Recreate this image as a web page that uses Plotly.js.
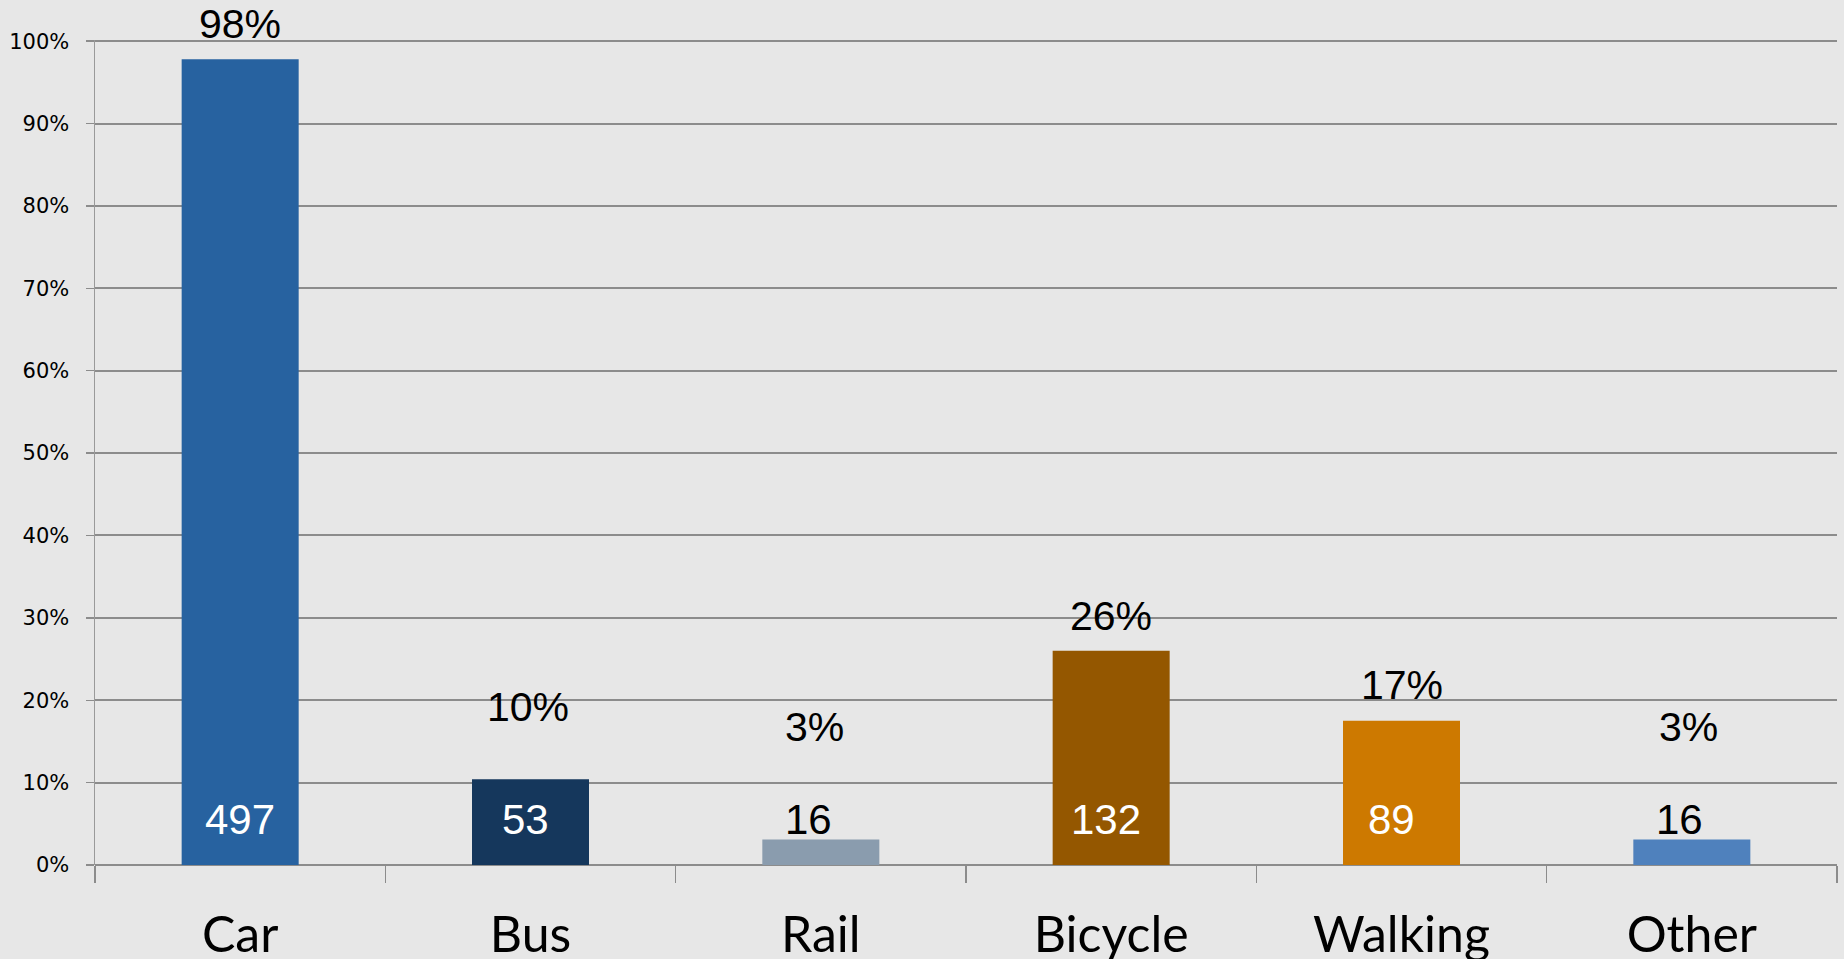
<!DOCTYPE html>
<html>
<head>
<meta charset="utf-8">
<script src="https://cdn.plot.ly/plotly-3.0.1.min.js"></script>
<style>html,body{margin:0;padding:0;background:#e7e7e7;}#chart{width:1844px;height:959px;}</style>
</head>
<body>
<div id="chart"></div>
<script>
// Data
const categories = ["Car", "Bus", "Rail", "Bicycle", "Walking", "Other"];
const shareValues = [97.8, 10.4, 3.1, 26.0, 17.5, 3.1];          // % of respondents
const counts = [497, 53, 16, 132, 89, 16];                        // respondents
const shareLabels = ["98%", "10%", "3%", "26%", "17%", "3%"];
const barColors = ["#2762a0", "#15375c", "#8a9cae", "#945700", "#cd7900", "#4f81bd"];
const countLabelColors = ["#ffffff", "#ffffff", "#000000", "#ffffff", "#ffffff", "#000000"];
const yTickVals = [0, 10, 20, 30, 40, 50, 60, 70, 80, 90, 100];

// label pixel offsets (layout only)
const pctShift = [35, 72, 112, 35, 36, 112];
const labelXShift = [0, -3, -6, 0, 0, -3];
const countXShift = [0, -5, -12, -5, -10, -12];

const annotations = [];
categories.forEach((c, i) => {
  annotations.push({
    x: c, y: shareValues[i], xref: "x", yref: "y",
    text: shareLabels[i], showarrow: false, yanchor: "middle",
    yshift: pctShift[i], xshift: labelXShift[i],
    font: {family: "Liberation Sans, Arial, sans-serif", size: 41, color: "#000000"}
  });
  annotations.push({
    x: c, y: 0, xref: "x", yref: "y",
    text: String(counts[i]), showarrow: false, yanchor: "middle",
    yshift: 46, xshift: countXShift[i],
    font: {family: "Liberation Sans, Arial, sans-serif", size: 42, color: countLabelColors[i]}
  });
});

const trace = {
  type: "bar",
  x: categories,
  y: shareValues,
  marker: {color: barColors, line: {width: 0}},
  hoverinfo: "x+y",
  cliponaxis: false
};

const layout = {
  width: 1844, height: 959,
  paper_bgcolor: "#e7e7e7",
  plot_bgcolor: "#e7e7e7",
  margin: {l: 95, r: 7, t: 40, b: 94, pad: 0},
  bargap: 0.597,
  showlegend: false,
  xaxis: {
    type: "category",
    range: [-0.5, 5.5],
    showgrid: false,
    zeroline: false,
    showline: false,
    ticks: "outside",
    tickson: "boundaries",
    ticklen: 17,
    tickwidth: 1.5,
    tickcolor: "#8c8c8c",
    ticklabelstandoff: 36,
    tickfont: {family: "Lato, Liberation Sans, sans-serif", size: 50, color: "#000000"},
    fixedrange: true
  },
  yaxis: {
    range: [0, 100.15],
    tickvals: yTickVals,
    ticktext: yTickVals.map(v => v + "%"),
    showgrid: true,
    gridcolor: "#8c8c8c",
    gridwidth: 2,
    zeroline: true,
    zerolinecolor: "#8c8c8c",
    zerolinewidth: 2,
    showline: true,
    linecolor: "#9a9a9a",
    linewidth: 1.5,
    ticks: "outside",
    ticklen: 8,
    tickwidth: 1.5,
    tickcolor: "#8c8c8c",
    ticklabelstandoff: 12,
    tickfont: {family: "DejaVu Sans, Verdana, sans-serif", size: 21, color: "#000000"},
    fixedrange: true
  },
  annotations: annotations
};

Plotly.newPlot("chart", [trace], layout, {displayModeBar: false, staticPlot: true});
</script>
</body>
</html>
